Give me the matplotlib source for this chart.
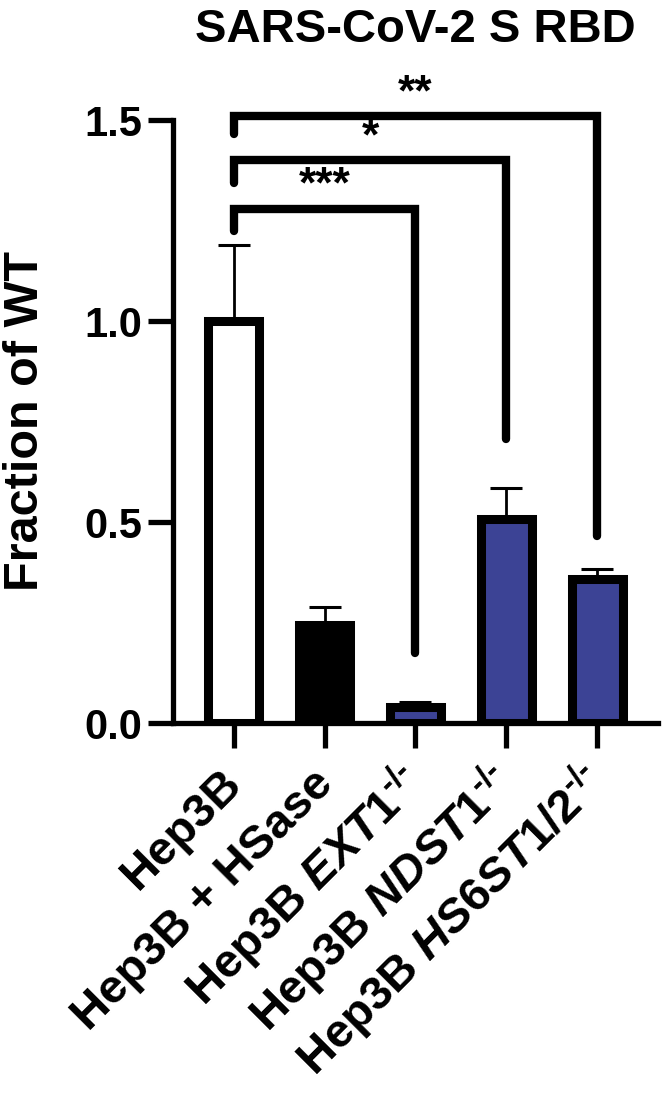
import numpy as np
import matplotlib
matplotlib.use('Agg')
import matplotlib.pyplot as plt
from matplotlib.transforms import ScaledTranslation

plt.rcParams['font.family'] = ['Liberation Sans', 'DejaVu Sans']
plt.rcParams['font.weight'] = 'bold'
plt.rcParams['mathtext.fontset'] = 'custom'
plt.rcParams['mathtext.rm'] = 'Liberation Sans:bold'
plt.rcParams['mathtext.bf'] = 'Liberation Sans:bold'
plt.rcParams['mathtext.it'] = 'Liberation Sans:italic:bold'

# data
labels = ['Hep3B', 'Hep3B + HSase',
          r'Hep3B $\mathit{EXT1}^{\text{-/-}}$',
          r'Hep3B $\mathit{NDST1}^{\text{-/-}}$',
          r'Hep3B $\mathit{HS6ST1/2}^{\text{-/-}}$']
means = [1.0, 0.245, 0.04, 0.507, 0.358]
sem = [0.19, 0.044, 0.012, 0.078, 0.025]
colors = ['white', 'black', '#3c4395', '#3c4395', '#3c4395']

# significance brackets: (group a, group b, label)
pairs = [(0, 2), (0, 3), (0, 4)]
stars = ['***', '*', '**']
bracket_top = [1.28, 1.40, 1.51]
left_end = [1.224, 1.345, 1.465]
right_end = [0.175, 0.706, 0.465]

fig = plt.figure(figsize=(6.64, 10.97), dpi=100)
ax = fig.add_axes([0.2605, 0.3409, 0.7304, 0.6044])

x = np.arange(len(labels))
ax.bar(x, means, width=0.56, color=colors, edgecolor='black', linewidth=6.5, zorder=3)
ax.errorbar(x, means, yerr=[np.zeros(len(sem)), sem], fmt='none', ecolor='black',
            elinewidth=2, capsize=11.5, capthick=2.2, zorder=2)

for (a, b), s, top, le, re in zip(pairs, stars, bracket_top, left_end, right_end):
    ax.plot([x[a], x[a], x[b], x[b]], [le, top, top, re], color='black', lw=6,
            solid_capstyle='round', solid_joinstyle='miter', clip_on=False, zorder=4)
    ax.text((x[a] + x[b]) / 2, top + 0.028, s, ha='center', va='baseline',
            fontsize=32, fontweight='bold', clip_on=False)

ax.set_xlim(-0.67, 4.67)
ax.set_ylim(0, 1.65)
ax.set_yticks([0.0, 0.5, 1.0, 1.5])
ax.set_yticklabels(['0.0', '0.5', '1.0', '1.5'], fontsize=30, fontweight='bold')
ax.set_xticks(x)
ax.set_xticklabels(labels, fontsize=34, fontweight='bold', rotation=45,
                   ha='right', va='baseline', rotation_mode='anchor')

for side in ['top', 'right']:
    ax.spines[side].set_visible(False)
ax.spines['left'].set_bounds(0, 1.5)
ax.spines['left'].set_linewidth(3.8)
ax.spines['bottom'].set_linewidth(3.8)
ax.tick_params(axis='y', length=18, width=3.8, pad=4)
ax.tick_params(axis='x', length=18, width=3.8, pad=27)

# nudge the rotated category labels a little to the right
for lbl in ax.get_xticklabels():
    lbl.set_transform(lbl.get_transform() + ScaledTranslation(0.10, 0, fig.dpi_scale_trans))

ax.set_ylabel('Fraction of WT', fontsize=35, fontweight='bold', va='center')
ax.yaxis.set_label_coords(-0.305, 0.455)

fig.text(0.625, 1 - 42 / 1097, 'SARS-CoV-2 S RBD', ha='center', va='baseline',
         fontsize=34, fontweight='bold')

fig.savefig('out.png', dpi=100)
